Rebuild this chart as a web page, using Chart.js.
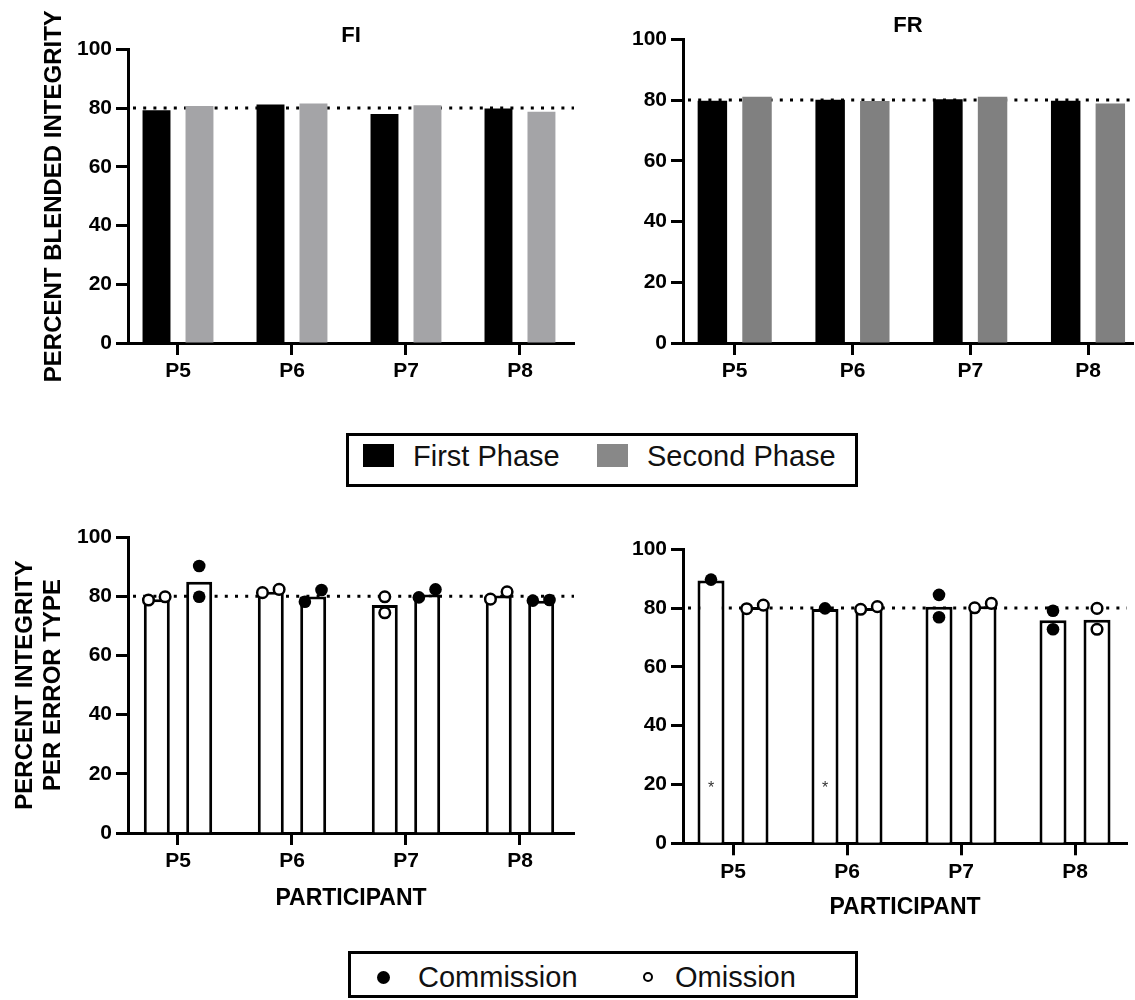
<!DOCTYPE html>
<html>
<head>
<meta charset="utf-8">
<script src="https://cdn.jsdelivr.net/npm/chart.js@4.4.1/dist/chart.umd.min.js"></script>
<style>
  body { margin: 0; background: #fff; width: 1135px; height: 1000px; position: relative; overflow: hidden;
         font-family: 'Liberation Sans', Arial, Helvetica, sans-serif; }
  canvas { position: absolute; }
  .box { position: absolute; box-sizing: border-box; border: 3px solid #000; background: #fff; }
  .item { position: absolute; font-size: 29px; color: #111; line-height: 1; white-space: nowrap; }
  .sw { position: absolute; }
</style>
</head>
<body>
<canvas id="fi" width="590" height="400" style="left:0;top:0"></canvas>
<canvas id="fr" width="575" height="400" style="left:560px;top:0"></canvas>
<canvas id="fiErr" width="590" height="430" style="left:0;top:500px"></canvas>
<canvas id="frErr" width="575" height="440" style="left:560px;top:500px"></canvas>

<div class="box" style="left:346px;top:433px;width:512px;height:54px"></div>
<div class="sw" style="left:363px;top:444px;width:31px;height:23px;background:#000"></div>
<div class="item" style="left:413px;top:442px">First Phase</div>
<div class="sw" style="left:597px;top:444px;width:31px;height:23px;background:#888"></div>
<div class="item" style="left:647px;top:442px">Second Phase</div>

<div class="box" style="left:348px;top:951px;width:510px;height:47px"></div>
<div class="sw" style="left:377px;top:971px;width:13px;height:13px;border-radius:50%;background:#000"></div>
<div class="item" style="left:418px;top:963px">Commission</div>
<div class="sw" style="left:643px;top:972px;width:10px;height:10px;box-sizing:border-box;border:2.5px solid #000;border-radius:50%"></div>
<div class="item" style="left:675px;top:963px">Omission</div>

<script>
  const participants = ['P5', 'P6', 'P7', 'P8'];
  const CRITERION = 80;

  // blended integrity per phase
  const fiFirstPhase  = [79.3, 81.2, 78.0, 79.9];
  const fiSecondPhase = [80.7, 81.6, 81.0, 78.8];
  const frFirstPhase  = [79.8, 80.1, 80.3, 79.8];
  const frSecondPhase = [81.1, 79.7, 81.1, 78.9];

  // integrity per error type: bar = mean, points = individual values
  const fiOmissionMean   = [79.0, 81.5, 77.0, 80.2];
  const fiOmissionPts    = [[78.7, 79.8], [81.2, 82.3], [79.8, 74.4], [79.0, 81.5]];
  const fiCommissionMean = [84.9, 79.9, 80.6, 78.5];
  const fiCommissionPts  = [[90.2, 79.8], [78.1, 82.1], [79.6, 82.3], [78.5, 78.7]];

  const frCommissionMean = [89.4, 79.7, 80.5, 75.9];
  const frCommissionPts  = [[89.7], [79.9], [84.5, 76.9], [79.1, 72.8]];
  const frOmissionMean   = [80.4, 80.0, 80.6, 76.0];
  const frOmissionPts    = [[79.8, 81.0], [79.6, 80.5], [80.1, 81.6], [79.9, 72.8]];
  const frStarred        = ['P5', 'P6'];
  const STAR_AT = 20;

  const FONT = "'Liberation Sans', Arial, Helvetica, sans-serif";
  const tickFont = { family: FONT, size: 21, weight: 'bold' };
  const titleFont = { family: FONT, size: 24, weight: 'bold', lineHeight: 1.2 };
  const JITTER = 0.073;

  const criterionLine = {
    id: 'criterionLine',
    beforeDatasetsDraw(chart) {
      const { ctx, chartArea, scales } = chart;
      const y = scales.y.getPixelForValue(CRITERION);
      ctx.save();
      ctx.strokeStyle = '#000';
      ctx.lineWidth = 3;
      ctx.setLineDash([3, 7.2]);
      ctx.beginPath();
      ctx.moveTo(chartArea.left + 5, y);
      ctx.lineTo(chartArea.right, y);
      ctx.stroke();
      ctx.restore();
    }
  };

  const starPlugin = {
    id: 'stars',
    afterDatasetsDraw(chart) {
      const st = chart.$stars;
      if (!st) return;
      const { ctx, scales } = chart;
      const meta = chart.getDatasetMeta(st.dataset);
      ctx.save();
      ctx.fillStyle = '#333';
      ctx.font = `16px ${FONT}`;
      ctx.textAlign = 'center';
      ctx.textBaseline = 'middle';
      st.labels.forEach(lab => {
        const el = meta.data[participants.indexOf(lab)];
        ctx.fillText('*', el.x, scales.y.getPixelForValue(STAR_AT) + 4);
      });
      ctx.restore();
    }
  };

  const barData = (vals) => vals.map((y, i) => ({ x: i, y }));

  // points sit over their bar; two close values are spread side by side
  function pointData(groups, barIdx, cp) {
    const out = [];
    groups.forEach((vals, i) => {
      const center = i + (barIdx - 0.5) * cp / 2;
      const spread = vals.length === 2 && Math.abs(vals[0] - vals[1]) < 5;
      vals.forEach((y, j) => out.push({ x: center + (spread ? (j ? JITTER : -JITTER) : 0), y }));
    });
    return out;
  }

  function scales(g) {
    return {
      x: {
        type: 'linear', min: g.xMin, max: g.xMax, offset: false,
        afterBuildTicks: s => { s.ticks = participants.map((_, i) => ({ value: i })); },
        afterFit: s => { s.height = g.xHeight; },
        ticks: { callback: v => participants[v], font: tickFont, color: '#000', padding: 4, maxRotation: 0, autoSkip: false },
        grid: { offset: false, drawOnChartArea: false, drawTicks: true, tickLength: 12, tickWidth: 3, tickColor: '#000' },
        border: { display: true, color: '#000', width: 3 },
        title: g.xTitle
          ? { display: true, text: g.xTitle, color: '#000', font: { family: FONT, size: 23, weight: 'bold' }, padding: { top: 0, bottom: g.xTitlePad } }
          : { display: false }
      },
      y: {
        min: 0, max: 100,
        afterFit: s => { s.width = g.yWidth; },
        ticks: { stepSize: 20, font: tickFont, color: '#000', padding: 4 },
        grid: { drawOnChartArea: false, drawTicks: true, tickLength: 12, tickWidth: 3, tickColor: '#000' },
        border: { display: true, color: '#000', width: 3 },
        title: g.yTitle
          ? { display: true, text: g.yTitle, color: '#000', font: titleFont, padding: { top: g.yTitlePad, bottom: 0 } }
          : { display: false }
      }
    };
  }

  function makeChart(id, datasets, g) {
    const chart = new Chart(document.getElementById(id), {
      type: 'bar',
      data: { datasets },
      options: {
        responsive: false,
        devicePixelRatio: 1,
        animation: false,
        layout: { padding: g.padding },
        scales: scales(g),
        plugins: {
          legend: { display: false },
          tooltip: { enabled: false },
          title: g.title
            ? { display: true, text: g.title, color: '#000', fullSize: false,
                font: { family: FONT, size: 22, weight: 'bold' }, padding: { top: g.titleTop, bottom: 0 } }
            : { display: false }
        }
      },
      plugins: [criterionLine, starPlugin]
    });
    if (g.stars) { chart.$stars = g.stars; chart.draw(); }
    return chart;
  }

  function phaseBars(first, second, gray, cp, bp) {
    const common = { categoryPercentage: cp, barPercentage: bp, borderWidth: 0, borderSkipped: false };
    return [
      { label: 'First Phase', data: barData(first), backgroundColor: '#000', ...common },
      { label: 'Second Phase', data: barData(second), backgroundColor: gray, ...common }
    ];
  }

  function errorSet(bars, cp, bp) {
    const sets = [];
    bars.forEach((b, k) => {
      sets.push({ type: 'bar', label: b.label, data: barData(b.mean), backgroundColor: '#fff', borderColor: '#000',
                  borderWidth: 3, borderSkipped: 'start', categoryPercentage: cp, barPercentage: bp, order: 2 });
    });
    bars.forEach((b, k) => {
      const filled = b.label === 'Commission';
      sets.push({ type: 'scatter', label: b.label + ' points', data: pointData(b.pts, k, cp), order: 0,
                  pointStyle: 'circle',
                  pointRadius: filled ? 6.3 : 5.3,
                  pointBackgroundColor: filled ? '#000' : '#fff',
                  pointBorderColor: '#000',
                  pointBorderWidth: filled ? 0 : 2.5 });
    });
    return sets;
  }

  makeChart('fi', phaseBars(fiFirstPhase, fiSecondPhase, '#a4a4a7', 0.754, 0.65), {
    xMin: -0.4386, xMax: 3.474, xHeight: 57, yWidth: 128,
    yTitle: 'PERCENT BLENDED INTEGRITY', yTitlePad: 40,
    title: 'FI', titleTop: 23, padding: { top: 0, right: 16, bottom: 0, left: 0 }
  });

  makeChart('fr', phaseBars(frFirstPhase, frSecondPhase, '#808080', 0.758, 0.66), {
    xMin: -0.439, xMax: 3.382, xHeight: 57, yWidth: 123,
    title: 'FR', titleTop: 13, padding: { top: 0, right: 2, bottom: 0, left: 0 }
  });

  makeChart('fiErr', errorSet([
    { label: 'Omission', mean: fiOmissionMean, pts: fiOmissionPts },
    { label: 'Commission', mean: fiCommissionMean, pts: fiCommissionPts }
  ], 0.744, 0.613), {
    xMin: -0.4386, xMax: 3.474, xHeight: 97, yWidth: 128,
    yTitle: ['PERCENT INTEGRITY', 'PER ERROR TYPE'], yTitlePad: 10.6,
    xTitle: 'PARTICIPANT', xTitlePad: 18,
    padding: { top: 37, right: 16, bottom: 0, left: 0 }
  });

  makeChart('frErr', errorSet([
    { label: 'Commission', mean: frCommissionMean, pts: frCommissionPts },
    { label: 'Omission', mean: frOmissionMean, pts: frOmissionPts }
  ], 0.772, 0.614), {
    xMin: -0.4386, xMax: 3.456, xHeight: 96.7, yWidth: 123,
    xTitle: 'PARTICIPANT', xTitlePad: 19,
    padding: { top: 49.3, right: 8, bottom: 0, left: 0 },
    stars: { dataset: 0, labels: frStarred }
  });
</script>
</body>
</html>
